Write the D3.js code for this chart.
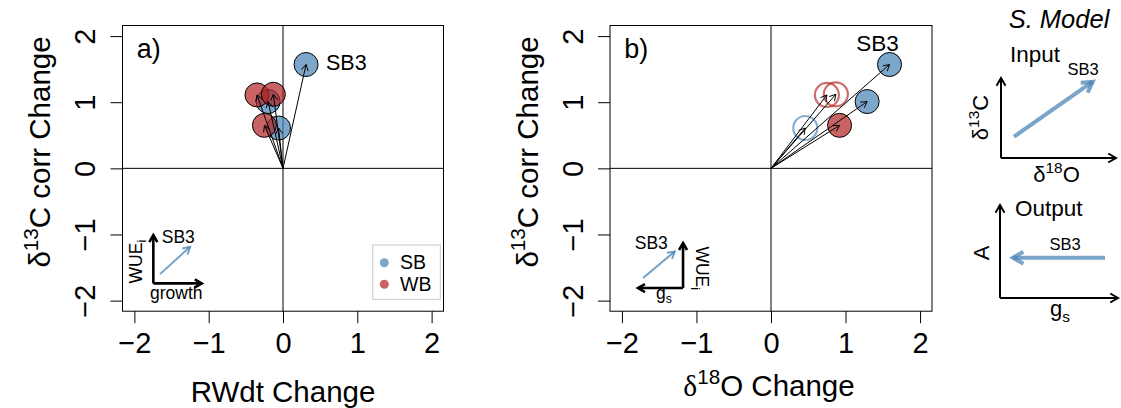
<!DOCTYPE html>
<html>
<head>
<meta charset="utf-8">
<script src="https://cdn.jsdelivr.net/npm/d3@7"></script>
<style>
  body { margin: 0; background: #fff; }
  text { font-family: "Liberation Sans", Arial, Helvetica, sans-serif; fill: #000; }
</style>
</head>
<body>
<svg id="fig" width="1121" height="408"></svg>
<script>
// Site-level changes between periods
const sites = ["SB1", "SB2", "SB3", "WB1", "WB2", "WB3"];
const siteGroup = ["SB", "SB", "SB", "WB", "WB", "WB"];
const d13CChange = [0.61, 1.01, 1.57, 0.65, 1.11, 1.12];
const rwdtChange = [-0.06, -0.20, 0.31, -0.25, -0.35, -0.13];
const d18OChange = [0.46, 1.29, 1.59, 0.92, 0.75, 0.87];
const d18OFilled = [false, true, true, true, false, false];
const axisTicks = [-2, -1, 0, 1, 2];
const groups = ["SB", "WB"];
const groupColors = ["#4682B4", "#B22222"];
const highlightSite = "SB3";

const svg = d3.select("#fig");
const colour = d3.scaleOrdinal().domain(groups).range(groupColors);
const FILL_OPACITY = 0.7;
const TICK_FONT = 29;
const TITLE_FONT = 29.5;

const y = d3.scaleLinear().domain([-2.16, 2.16]).range([311.2, 25.5]);

function arrowHeadPath(x1, y1, x2, y2, len, ang = Math.PI / 6) {
  const a = Math.atan2(y2 - y1, x2 - x1);
  const p1 = [x2 - len * Math.cos(a - ang), y2 - len * Math.sin(a - ang)];
  const p2 = [x2 - len * Math.cos(a + ang), y2 - len * Math.sin(a + ang)];
  return `M${p1[0]},${p1[1]}L${x2},${y2}L${p2[0]},${p2[1]}`;
}

function arrow(g, x1, y1, x2, y2, opt) {
  const o = Object.assign({ stroke: "#000", width: 1, len: 7, opacity: 1 }, opt);
  const a = g.append("g").attr("stroke", o.stroke).attr("stroke-width", o.width)
    .attr("stroke-opacity", o.opacity).attr("fill", "none")
    .attr("stroke-linecap", "butt").attr("stroke-linejoin", "miter");
  a.append("line").attr("x1", x1).attr("y1", y1).attr("x2", x2).attr("y2", y2);
  a.append("path").attr("d", arrowHeadPath(x1, y1, x2, y2, o.len));
  return a;
}

// text with one raised (sup) or lowered (sub) piece
function richText(g, parts, size) {
  const t = g.append("text").attr("font-size", size);
  parts.forEach(p => {
    const s = t.append("tspan").text(p.t);
    if (p.sup) s.attr("font-size", size * 0.7).attr("dy", -size * 0.42);
    if (p.sub) s.attr("font-size", size * 0.7).attr("dy", size * 0.25);
    if (p.after) s.attr("dy", p.after);
    if (p.family) s.style("font-family", p.family);
  });
  return t;
}

const panels = [
  { key: "a", left: 122.5, right: 443.5, values: rwdtChange, tag: "a)" },
  { key: "b", left: 610, right: 932, values: d18OChange, tag: "b)" }
];

panels.forEach(p => {
  const x = d3.scaleLinear().domain([-2.16, 2.16]).range([p.left, p.right]);
  p.x = x;
  const g = svg.append("g").attr("class", "panel-" + p.key);

  // reference lines through zero
  g.append("line").attr("x1", x(0)).attr("x2", x(0)).attr("y1", y.range()[1]).attr("y2", y.range()[0])
    .attr("stroke", "#000").attr("stroke-width", 1);
  g.append("line").attr("x1", p.left).attr("x2", p.right).attr("y1", y(0)).attr("y2", y(0))
    .attr("stroke", "#000").attr("stroke-width", 1);

  // axes
  const xAxis = g.append("g").attr("transform", `translate(0,${y.range()[0]})`)
    .call(d3.axisBottom(x).tickValues(axisTicks).tickSize(12).tickPadding(9.5).tickFormat(d3.format("d")));
  xAxis.select(".domain").remove();
  xAxis.selectAll("line").attr("stroke", "#000");
  xAxis.selectAll("text").attr("font-size", TICK_FONT).style("font-family", "Liberation Sans, Arial, sans-serif").attr("fill", "#000");

  const yAxis = g.append("g").attr("transform", `translate(${p.left},0)`)
    .call(d3.axisLeft(y).tickValues(axisTicks).tickSize(12).tickFormat(d3.format("d")));
  yAxis.select(".domain").remove();
  yAxis.selectAll("line").attr("stroke", "#000");
  yAxis.selectAll("text")
    .attr("x", null).attr("dy", null)
    .attr("text-anchor", "middle")
    .attr("transform", "translate(-27.5,0) rotate(-90)")
    .attr("font-size", TICK_FONT).style("font-family", "Liberation Sans, Arial, sans-serif").attr("fill", "#000");

  // frame
  g.append("rect").attr("x", p.left).attr("y", y.range()[1])
    .attr("width", p.right - p.left).attr("height", y.range()[0] - y.range()[1])
    .attr("fill", "none").attr("stroke", "#000").attr("stroke-width", 1);

  // panel tag
  g.append("text").attr("x", p.left + 14.2).attr("y", 58).attr("font-size", 27).text(p.tag);

  // y title
  richText(g, [{ t: "δ" }, { t: "13", sup: true }, { t: "C corr Change", after: TITLE_FONT * 0.42 }], TITLE_FONT)
    .attr("text-anchor", "middle")
    .attr("transform", `translate(${p.left - 72.5},152) rotate(-90)`);

  // site points
  const pts = sites.map((s, i) => ({
    site: s, grp: siteGroup[i], xv: p.values[i], yv: d13CChange[i],
    filled: p.key === "a" ? true : d18OFilled[i]
  }));

  const pg = g.append("g");
  pts.forEach(d => {
    const c = pg.append("circle").attr("cx", x(d.xv)).attr("cy", y(d.yv)).attr("r", 12);
    if (d.filled) {
      c.attr("fill", colour(d.grp)).attr("fill-opacity", FILL_OPACITY)
        .attr("stroke", "#000").attr("stroke-width", 1);
    } else {
      c.attr("fill", "none").attr("stroke", colour(d.grp)).attr("stroke-opacity", 0.65)
        .attr("stroke-width", 2.2);
    }
  });
  const ag = g.append("g");
  pts.forEach(d => arrow(ag, x(0), y(0), x(d.xv), y(d.yv), { len: 7, width: 1 }));

  // highlighted site label
  const hi = pts.find(d => d.site === highlightSite);
  if (p.key === "a") {
    g.append("text").attr("x", x(hi.xv) + 20).attr("y", y(hi.yv) + 5.5)
      .attr("font-size", 21.5).text(highlightSite);
  } else {
    g.append("text").attr("x", x(hi.xv) - 12).attr("y", y(hi.yv) - 13.5)
      .attr("text-anchor", "middle").attr("font-size", 22.5).text(highlightSite);
  }
});

// x titles
richText(svg, [{ t: "RWdt Change" }], TITLE_FONT).attr("x", panels[0].x(0)).attr("y", 402).attr("text-anchor", "middle");
richText(svg, [{ t: "δ", family: "Liberation Serif, serif" }, { t: "18", sup: true }, { t: "O Change", after: TITLE_FONT * 0.42 }], TITLE_FONT)
  .attr("x", panels[1].x(0) - 2).attr("y", 396).attr("text-anchor", "middle");

// legend (panel a)
{
  const g = svg.append("g");
  g.append("rect").attr("x", 372.7).attr("y", 245).attr("width", 67.6).attr("height", 54.3)
    .attr("fill", "#fff").attr("stroke", "#c8c8c8").attr("stroke-width", 1);
  groups.forEach((grp, i) => {
    const cy = 262.7 + i * 21.6;
    g.append("circle").attr("cx", 384.3).attr("cy", cy).attr("r", 4.5)
      .attr("fill", colour(grp)).attr("fill-opacity", FILL_OPACITY);
    g.append("text").attr("x", 400).attr("y", cy + 6.5).attr("font-size", 19.5).text(grp);
  });
}

// orientation key inside panel a: WUEi vs growth
{
  const x = panels[0].x;
  const ox = x(-1.745), oy = y(-1.74);
  const g = svg.append("g");
  arrow(g, ox, oy, ox, oy - 48.3, { width: 2.6, len: 8 });
  arrow(g, ox, oy, ox + 48.4, oy, { width: 2.6, len: 8 });
  arrow(g, ox + 6.7, oy - 9.3, ox + 36.7, oy - 36.6, { stroke: colour("SB"), opacity: 0.75, width: 2, len: 8 });
  g.append("text").attr("x", ox + 8.4).attr("y", oy - 40).attr("font-size", 17.5).text(highlightSite);
  g.append("text").attr("x", ox - 3.3).attr("y", oy + 16).attr("font-size", 17.5).text("growth");
  richText(g, [{ t: "WUE" }, { t: "i", sub: true }], 17.5)
    .attr("transform", `translate(${ox - 11.6},${oy}) rotate(-90)`);
}

// orientation key inside panel b: WUEi vs gs
{
  const x = panels[1].x;
  const ox = x(-1.18), oy = y(-1.81);
  const g = svg.append("g");
  arrow(g, ox, oy, ox, oy - 45, { width: 2.6, len: 8 });
  arrow(g, ox, oy, ox - 45, oy, { width: 2.6, len: 8 });
  arrow(g, ox - 40, oy - 10, ox - 8.3, oy - 36.6, { stroke: colour("SB"), opacity: 0.75, width: 2, len: 8 });
  g.append("text").attr("x", ox - 48.3).attr("y", oy - 39.3).attr("font-size", 17.5).text(highlightSite);
  richText(g, [{ t: "g" }, { t: "s", sub: true }], 17.5).attr("x", ox - 27).attr("y", oy + 10.5);
  richText(g, [{ t: "WUE" }, { t: "i", sub: true }], 17.5)
    .attr("transform", `translate(${ox + 12.5},${oy - 41.6}) rotate(90)`);
}

// schematic of the expected response (Scheidegger model)
{
  const g = svg.append("g");
  g.append("text").attr("x", 1059).attr("y", 28).attr("text-anchor", "middle")
    .attr("font-size", 25.5).attr("font-style", "italic").text("S. Model");

  // input: d13C vs d18O
  g.append("text").attr("x", 1010).attr("y", 61.5).attr("font-size", 22.5).text("Input");
  arrow(g, 1001, 158, 1001, 78, { width: 2, len: 9 });
  arrow(g, 1001, 158, 1116, 158, { width: 2, len: 9 });
  arrow(g, 1014, 136.7, 1092.7, 81.7, { stroke: colour("SB"), opacity: 0.72, width: 4, len: 12 });
  g.append("text").attr("x", 1083).attr("y", 75).attr("text-anchor", "middle").attr("font-size", 16.5).text(highlightSite);
  richText(g, [{ t: "δ" }, { t: "13", sup: true }, { t: "C", after: 22 * 0.42 }], 22)
    .attr("text-anchor", "middle").attr("transform", "translate(988,117.5) rotate(-90)");
  richText(g, [{ t: "δ" }, { t: "18", sup: true }, { t: "O", after: 22 * 0.42 }], 22)
    .attr("text-anchor", "middle").attr("x", 1056.5).attr("y", 182);

  // output: A vs gs
  g.append("text").attr("x", 1015).attr("y", 216).attr("font-size", 22.5).text("Output");
  arrow(g, 1000, 298, 1000, 205, { width: 2, len: 9 });
  arrow(g, 1000, 298, 1118, 298, { width: 2, len: 9 });
  arrow(g, 1105, 257.7, 1013, 257.7, { stroke: colour("SB"), opacity: 0.72, width: 4, len: 12 });
  g.append("text").attr("x", 1065).attr("y", 250).attr("text-anchor", "middle").attr("font-size", 16.5).text(highlightSite);
  g.append("text").attr("text-anchor", "middle").attr("font-size", 22)
    .attr("transform", "translate(988.5,253) rotate(-90)").text("A");
  richText(g, [{ t: "g" }, { t: "s", sub: true }], 22).attr("x", 1050).attr("y", 316);
}
</script>
</body>
</html>
